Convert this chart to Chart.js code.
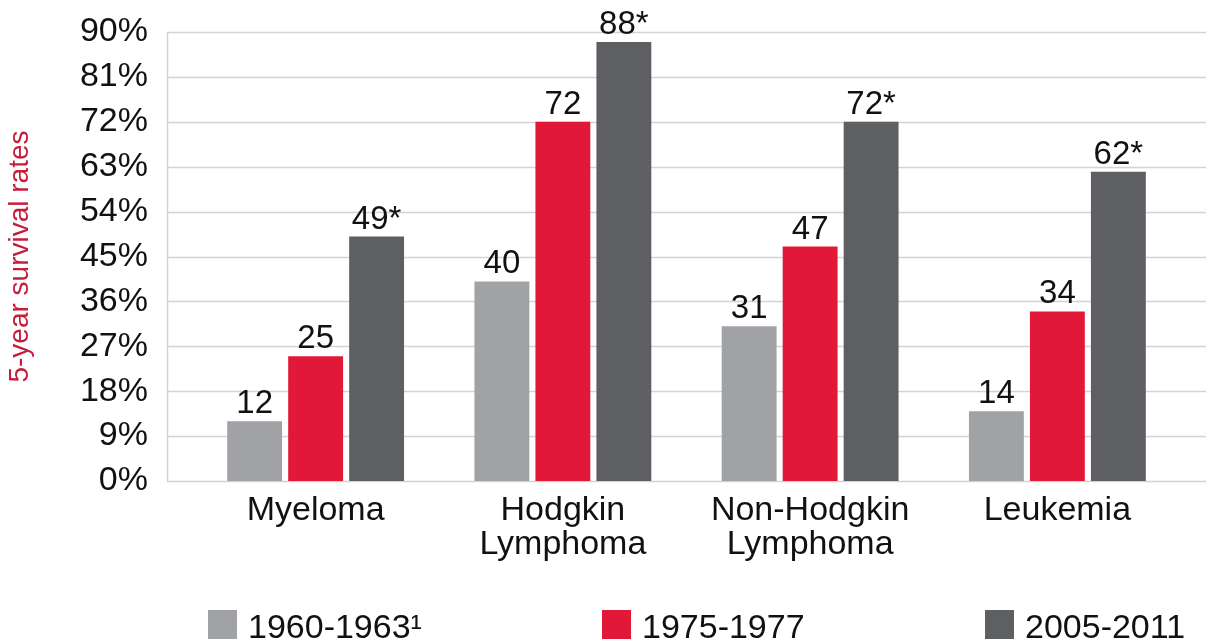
<!DOCTYPE html>
<html>
<head>
<meta charset="utf-8">
<script src="https://cdn.jsdelivr.net/npm/chart.js@4/dist/chart.umd.min.js"></script>
<style>
	body { margin: 0; background: #fff; }
	#wrap { position: relative; width: 1206px; height: 641px; overflow: hidden; }
	.lg { position: absolute; top: 609px; display: flex; align-items: flex-start;
		font: 34px 'Liberation Sans', Arial, sans-serif; line-height: 34px; color: #111; white-space: nowrap; }
	.lg span.sw { display: inline-block; width: 29px; height: 29px; margin: 1px 11px 0 0; }
</style>
</head>
<body>
<div id="wrap">
	<canvas id="chartBar"></canvas>
	<div id="legend"></div>
</div>
<script>
'use strict';

var categories = ['Myeloma', ['Hodgkin', 'Lymphoma'], ['Non-Hodgkin', 'Lymphoma'], 'Leukemia'];
var seriesNames = ['1960-1963\u00b9', '1975-1977', '2005-2011'];
var rates1960 = [12, 40, 31, 14];
var rates1975 = [25, 72, 47, 34];
var rates2005 = [49, 88, 72, 62];
var labelSuffix = ['', '', '*'];
var yTicks = [0, 9, 18, 27, 36, 45, 54, 63, 72, 81, 90];

var colors = ['#a1a2a6', '#e11837', '#5e5f62'];
var fontFamily = "'Liberation Sans', Arial, sans-serif";

// grid lines run past the category area on both sides, so draw them here
var gridPlugin = {
	id: 'wideGrid',
	beforeDatasetsDraw: function(chart) {
		var ctx = chart.ctx, y = chart.scales.y;
		var left = 167;
		ctx.save();
		ctx.strokeStyle = '#d3d3d3';
		ctx.lineWidth = 1.5;
		y.ticks.forEach(function(t) {
			var py = Math.round(y.getPixelForValue(t.value)) + 0.5;
			ctx.beginPath();
			ctx.moveTo(left, py);
			ctx.lineTo(chart.width, py);
			ctx.stroke();
		});
		ctx.beginPath();
		ctx.moveTo(left + 0.5, y.getPixelForValue(90));
		ctx.lineTo(left + 0.5, y.getPixelForValue(0));
		ctx.stroke();
		ctx.restore();
	}
};

var valuePlugin = {
	id: 'barValues',
	afterDatasetsDraw: function(chart) {
		var ctx = chart.ctx;
		ctx.save();
		ctx.font = '33px ' + fontFamily;
		ctx.fillStyle = '#111';
		ctx.textAlign = 'center';
		ctx.textBaseline = 'alphabetic';
		chart.data.datasets.forEach(function(ds, i) {
			chart.getDatasetMeta(i).data.forEach(function(bar, j) {
				ctx.fillText(ds.data[j] + labelSuffix[i], bar.x, bar.y - 8);
			});
		});
		ctx.restore();
	}
};

var allRates = [rates1960, rates1975, rates2005];
var datasets = seriesNames.map(function(name, i) {
	return {
		label: name,
		data: allRates[i],
		backgroundColor: colors[i],
		barPercentage: 0.9,
		categoryPercentage: 0.74
	};
});

var ctx = document.getElementById('chartBar');
new Chart(ctx, {
	type: 'bar',
	data: {
		labels: categories,
		datasets: datasets
	},
	options: {
		maintainAspectRatio: false,
		responsive: true,
		animation: false,
		layout: {
			padding: { top: 32, right: 25, bottom: 80, left: 0 }
		},
		plugins: {
			legend: { display: false },
			tooltip: { enabled: false }
		},
		scales: {
			x: {
				grid: { display: false },
				border: { display: false },
				ticks: {
					color: '#111',
					padding: 4,
					font: { family: fontFamily, size: 34, lineHeight: 1.02 },
					maxRotation: 0,
					autoSkip: false
				},
				afterFit: function(s) { s.height = 80; }
			},
			y: {
				min: 0,
				max: 90,
				afterBuildTicks: function(s) {
					s.ticks = yTicks.map(function(v) { return { value: v }; });
				},
				grid: { display: false },
				border: { display: false },
				ticks: {
					color: '#111',
					padding: 36,
					autoSkip: false,
					font: { family: fontFamily, size: 34 },
					callback: function(v) { return v + '%'; }
				},
				title: {
					display: true,
					text: '5-year survival rates',
					color: '#c41e3a',
					font: { family: fontFamily, size: 28 },
					padding: { top: 3, bottom: 0 }
				},
				afterFit: function(s) {
					s.width = 192;
					s.paddingTop = 0;
					s.paddingBottom = 0;
				}
			}
		}
	},
	plugins: [gridPlugin, valuePlugin]
});

// legend, laid out like the original (wide gaps between items)
var legendLeft = [208, 602, 985];
var legendEl = document.getElementById('legend');
seriesNames.forEach(function(name, i) {
	var item = document.createElement('div');
	item.className = 'lg';
	item.style.left = legendLeft[i] + 'px';
	var sw = document.createElement('span');
	sw.className = 'sw';
	sw.style.background = colors[i];
	item.appendChild(sw);
	item.appendChild(document.createTextNode(name));
	legendEl.appendChild(item);
});
</script>
</body>
</html>
